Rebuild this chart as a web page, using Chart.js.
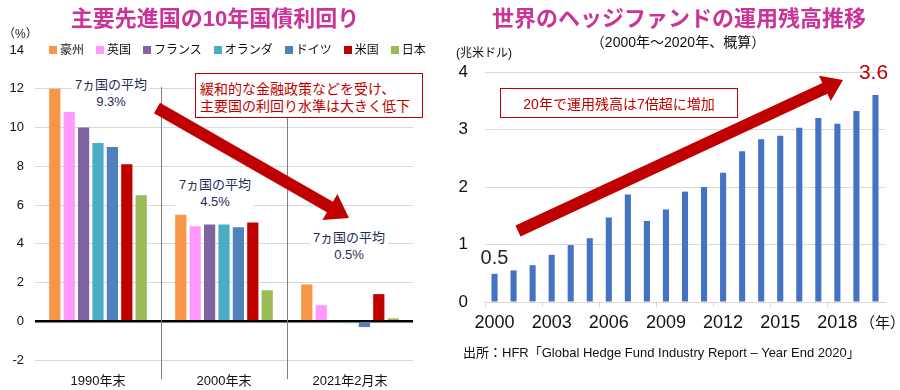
<!DOCTYPE html>
<html lang="ja">
<head>
<meta charset="utf-8">
<title>主要先進国の10年国債利回り / 世界のヘッジファンドの運用残高推移</title>
<script src="https://cdn.jsdelivr.net/npm/chart.js@4.4.1/dist/chart.umd.min.js"></script>
<style>
  body { margin: 0; background: #fff; font-family: "Liberation Sans", "Noto Sans CJK JP", sans-serif; }
  #wrap { position: relative; width: 900px; height: 390px; overflow: hidden; }
  canvas { position: absolute; top: 0; }
  .t { position: absolute; white-space: nowrap; line-height: 1; }
  .c { transform: translate(-50%, -50%); text-align: center; }
  .title { font-weight: bold; font-size: 22px; color: #cc3399; }
  .avg { color: #1f2d5a; font-size: 13px; line-height: 17px; background: #fff; padding: 0 3px; }
  .box { position: absolute; border: 1px solid #c00000; background: #fff; color: #c00000; font-size: 14px; }
  #legend { position: absolute; left: 49px; top: 44px; display: flex; font-size: 12px; color: #111; }
  #legend span.sq { display: inline-block; width: 8px; height: 8px; margin: 0 3px 0 0; }
  #legend div { display: flex; align-items: center; margin-right: 12px; line-height: 12px; }
</style>
</head>
<body>
<div id="wrap">
  <canvas id="bondChart" width="450" height="390" style="left:0"></canvas>
  <canvas id="hfChart" width="450" height="390" style="left:450px"></canvas>

  <div class="t c title" style="left:215px; top:19px">主要先進国の10年国債利回り</div>
  <div class="t" style="left:3px; top:28px; font-size:12px; color:#222">（%）</div>
  <div id="legend"></div>
  <div class="t c avg" style="left:111px; top:93px">7ヵ国の平均<br>9.3%</div>
  <div class="t c avg" style="left:215px; top:193px">7ヵ国の平均<br>4.5%</div>
  <div class="t c avg" style="left:349px; top:246px">7ヵ国の平均<br>0.5%</div>
  <div class="box" style="left:195px; top:73px; width:226px; height:43px">
    <div class="t" style="left:4px; top:8px">緩和的な金融政策などを受け、</div>
    <div class="t" style="left:4px; top:25px">主要国の利回り水準は大きく低下</div>
  </div>

  <div class="t c title" style="left:679px; top:19px">世界のヘッジファンドの運用残高推移</div>
  <div class="t c" style="left:678px; top:42px; font-size:14px; color:#111">（2000年～2020年、概算）</div>
  <div class="t" style="left:456px; top:47px; font-size:12px; color:#111">(兆米ドル)</div>
  <div class="box" style="left:500px; top:88px; width:236px; height:28px">
    <div class="t c" style="left:118px; top:15px">20年で運用残高は7倍超に増加</div>
  </div>
  <div class="t" style="left:860px; top:315px; font-size:15px; color:#111">（年）</div>
  <div class="t" style="left:463px; top:346px; font-size:13px; color:#111">出所：HFR「Global Hedge Fund Industry Report – Year End 2020」</div>
</div>

<script>
// ---- left chart data (10-year government bond yields, %)
var periods = ['1990年末', '2000年末', '2021年2月末'];
var countries = ['豪州', '英国', 'フランス', 'オランダ', 'ドイツ', '米国', '日本'];
var australia = [12.0, 5.5, 1.9];
var uk = [10.8, 4.9, 0.83];
var france = [10.0, 5.0, 0.0];
var netherlands = [9.2, 5.0, -0.1];
var germany = [9.0, 4.85, -0.3];
var usa = [8.1, 5.1, 1.4];
var japan = [6.5, 1.6, 0.15];
var yieldTicks = [-2, 0, 2, 4, 6, 8, 10, 12, 14];

// ---- right chart data (hedge fund AUM, trillion USD)
var years = ['2000', '2001', '2002', '2003', '2004', '2005', '2006', '2007', '2008', '2009', '2010',
             '2011', '2012', '2013', '2014', '2015', '2016', '2017', '2018', '2019', '2020'];
var aum = [0.49, 0.55, 0.64, 0.82, 0.99, 1.11, 1.47, 1.87, 1.41, 1.61, 1.92,
           2.0, 2.25, 2.62, 2.83, 2.89, 3.03, 3.2, 3.1, 3.32, 3.6];
var aumTicks = [0, 1, 2, 3, 4];

var countryColors = ['#f79646', '#ff99ff', '#8064a2', '#4bacc6', '#4f81bd', '#c00000', '#9bbb59'];
var seriesValues = [australia, uk, france, netherlands, germany, usa, japan];

Chart.defaults.font.family = '"Liberation Sans", "Noto Sans CJK JP", sans-serif';
Chart.defaults.color = '#111';

function drawArrow(ctx, x1, y1, x2, y2, w, headLen, headW, color) {
    var len = Math.hypot(x2 - x1, y2 - y1);
    ctx.save();
    ctx.translate(x1, y1);
    ctx.rotate(Math.atan2(y2 - y1, x2 - x1));
    ctx.beginPath();
    ctx.moveTo(0, -w / 2);
    ctx.lineTo(len - headLen, -w / 2);
    ctx.lineTo(len - headLen, -headW / 2);
    ctx.lineTo(len, 0);
    ctx.lineTo(len - headLen, headW / 2);
    ctx.lineTo(len - headLen, w / 2);
    ctx.lineTo(0, w / 2);
    ctx.closePath();
    ctx.fillStyle = color;
    ctx.fill();
    ctx.restore();
}

// separators between periods + arrow
var bondDecor = {
    id: 'bondDecor',
    beforeDatasetsDraw: function (chart) {
        var ctx = chart.ctx, xs = chart.scales.x;
        ctx.save();
        ctx.strokeStyle = '#808080';
        ctx.lineWidth = 1;
        for (var i = 0; i < periods.length - 1; i++) {
            var x = Math.round((xs.getPixelForTick(i) + xs.getPixelForTick(i + 1)) / 2) + 0.5;
            ctx.beginPath();
            ctx.moveTo(x, 87);
            ctx.lineTo(x, 379);
            ctx.stroke();
        }
        ctx.restore();
    },
    afterDraw: function (chart) {
        drawArrow(chart.ctx, 157, 108, 349, 218, 12, 22, 30, '#c00000');
    }
};

var hfDecor = {
    id: 'hfDecor',
    afterDraw: function (chart) {
        var ctx = chart.ctx;
        var bars = chart.getDatasetMeta(0).data;
        var first = bars[0], last = bars[bars.length - 1];
        drawArrow(ctx, 68, 231, 393, 80, 12, 20, 28, '#c00000');
        ctx.save();
        ctx.textAlign = 'center';
        ctx.textBaseline = 'middle';
        ctx.font = '20px "Liberation Sans"';
        ctx.fillStyle = '#262626';
        ctx.fillText(aum[0].toFixed(1), first.x, first.y - 15);
        ctx.font = '21px "Liberation Sans"';
        ctx.fillStyle = '#c00000';
        ctx.fillText(aum[aum.length - 1].toFixed(1), last.x - 2, last.y - 22);
        ctx.restore();
    }
};

new Chart(document.getElementById('bondChart'), {
    type: 'bar',
    data: {
        labels: periods,
        datasets: countries.map(function (name, i) {
            return {
                label: name,
                data: seriesValues[i],
                backgroundColor: countryColors[i],
                categoryPercentage: 0.8,
                barPercentage: 0.78
            };
        })
    },
    options: {
        responsive: false,
        animation: false,
        devicePixelRatio: 1,
        layout: { padding: { top: 50, right: 37, left: 0, bottom: 0 } },
        plugins: { legend: { display: false }, tooltip: { enabled: false } },
        scales: {
            x: {
                grid: { display: false },
                border: { display: false },
                ticks: { font: { size: 13 }, color: '#111', padding: 6 },
                afterFit: function (s) { s.height = 30; }
            },
            y: {
                min: -2, max: 14,
                afterBuildTicks: function (s) { s.ticks = yieldTicks.map(function (v) { return { value: v }; }); },
                border: { display: false },
                grid: {
                    drawTicks: false,
                    color: function (c) { return c.tick.value === 0 ? '#000' : (c.tick.value === 14 ? 'rgba(0,0,0,0)' : '#d9d9d9'); },
                    lineWidth: function (c) { return c.tick.value === 0 ? 2.5 : 1; }
                },
                ticks: { font: { size: 13 }, color: '#111', padding: 11 },
                afterFit: function (s) { s.width = 35; }
            }
        }
    },
    plugins: [bondDecor]
});

new Chart(document.getElementById('hfChart'), {
    type: 'bar',
    data: {
        labels: years,
        datasets: [{
            label: '運用残高',
            data: aum,
            backgroundColor: '#4472c4',
            categoryPercentage: 1,
            barPercentage: 0.32
        }]
    },
    options: {
        responsive: false,
        animation: false,
        devicePixelRatio: 1,
        layout: { padding: { top: 72, right: 15, left: 0, bottom: 0 } },
        plugins: { legend: { display: false }, tooltip: { enabled: false } },
        scales: {
            x: {
                grid: {
                    drawOnChartArea: false,
                    tickLength: 5,
                    color: function (c) { return c.index % 3 === 0 ? '#d9d9d9' : 'rgba(0,0,0,0)'; }
                },
                border: { color: '#d9d9d9' },
                ticks: {
                    autoSkip: false, maxRotation: 0, padding: 5,
                    font: { size: 18 }, color: '#111',
                    callback: function (v, i) { return i % 3 === 0 ? years[i] : ''; }
                },
                afterFit: function (s) { s.height = 88; }
            },
            y: {
                min: 0, max: 4,
                afterBuildTicks: function (s) { s.ticks = aumTicks.map(function (v) { return { value: v }; }); },
                border: { display: false },
                grid: { drawTicks: false, color: '#d9d9d9' },
                ticks: { font: { size: 17 }, color: '#111', padding: 17 },
                afterFit: function (s) { s.width = 35; }
            }
        }
    },
    plugins: [hfDecor]
});

// legend built from the series
var legend = document.getElementById('legend');
countries.forEach(function (name, i) {
    var item = document.createElement('div');
    item.innerHTML = '<span class="sq" style="background:' + countryColors[i] + '"></span>' + name;
    legend.appendChild(item);
});
</script>
</body>
</html>
